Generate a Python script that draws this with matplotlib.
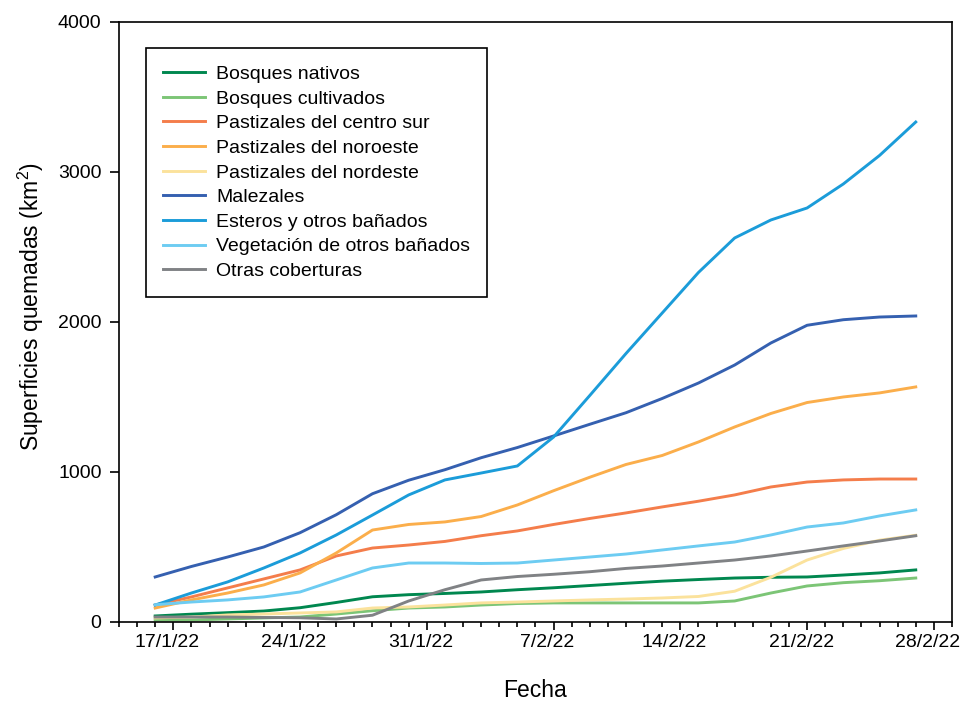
import numpy as np
import pandas as pd
import matplotlib
matplotlib.use('Agg')
import matplotlib.pyplot as plt
import matplotlib.dates as mdates
import matplotlib.transforms as mtransforms
from matplotlib.ticker import FuncFormatter

plt.rcParams['font.family'] = ['Liberation Sans', 'DejaVu Sans']
plt.rcParams['mathtext.fontset'] = 'custom'
plt.rcParams['mathtext.rm'] = 'Liberation Sans'
plt.rcParams['mathtext.it'] = 'Liberation Sans:italic'

# superficie quemada acumulada (km2), un valor cada 2 dias
fechas = pd.date_range('2022-01-16', '2022-02-27', freq='2D')

bosques_nativos = [40, 52, 62, 73, 95, 130, 168, 182, 190, 200, 215, 228, 243, 258, 272, 283,
                   293, 298, 300, 313, 327, 347]
bosques_cultivados = [13, 13, 20, 27, 33, 53, 75, 93, 100, 113, 123, 127, 127, 127, 127, 127,
                      140, 193, 240, 262, 275, 293]
past_centro_sur = [113, 167, 227, 287, 347, 440, 493, 513, 537, 575, 607, 650, 690, 727, 767, 805,
                   847, 900, 933, 947, 953, 953]
past_noroeste = [93, 147, 193, 247, 327, 460, 613, 650, 667, 703, 780, 875, 965, 1050, 1110, 1200,
                 1300, 1390, 1463, 1500, 1527, 1567]
past_nordeste = [27, 33, 47, 53, 60, 67, 93, 100, 113, 127, 133, 140, 147, 153, 160, 170,
                 205, 298, 413, 490, 545, 578]
malezales = [300, 370, 433, 500, 595, 715, 855, 945, 1015, 1095, 1163, 1240, 1318, 1395, 1490, 1593,
             1713, 1860, 1978, 2015, 2033, 2040]
esteros = [113, 193, 267, 360, 460, 580, 713, 847, 947, 993, 1040, 1233, 1510, 1790, 2060, 2330,
           2560, 2680, 2760, 2920, 3110, 3333]
veg_banados = [115, 133, 147, 167, 200, 280, 360, 393, 393, 390, 393, 413, 433, 453, 480, 507,
               533, 580, 633, 660, 707, 747]
otras = [33, 33, 33, 30, 28, 20, 45, 140, 215, 280, 303, 318, 335, 357, 373, 393,
         413, 440, 473, 507, 540, 575]

series = [
    ('Bosques nativos', bosques_nativos, '#00874F'),
    ('Bosques cultivados', bosques_cultivados, '#7CC576'),
    ('Pastizales del centro sur', past_centro_sur, '#F47D4B'),
    ('Pastizales del noroeste', past_noroeste, '#FBAE4B'),
    ('Pastizales del nordeste', past_nordeste, '#FBE29C'),
    ('Malezales', malezales, '#3560B0'),
    ('Esteros y otros bañados', esteros, '#1B9CD9'),
    ('Vegetación de otros bañados', veg_banados, '#6DCCF2'),
    ('Otras coberturas', otras, '#808285'),
]

fig = plt.figure(figsize=(9.61, 7.02), dpi=100)
ax = fig.add_axes([0.1238, 0.114, 0.8668, 0.8547])

for nombre, vals, col in series:
    ax.plot(fechas, vals, color=col, lw=2.1, label=nombre)

ax.set_xlim(pd.Timestamp('2022-01-14'), pd.Timestamp('2022-03-01'))
ax.set_ylim(0, 4000)
ax.set_yticks([0, 1000, 2000, 3000, 4000])

ax.xaxis.set_major_locator(mdates.WeekdayLocator(byweekday=mdates.MO))
ax.xaxis.set_minor_locator(mdates.DayLocator())


def fmt_fecha(x, pos):
    d = mdates.num2date(x)
    return f'{d.day}/{d.month}/{d.year % 100}'


ax.xaxis.set_major_formatter(FuncFormatter(fmt_fecha))

ax.tick_params(axis='x', which='major', direction='out', length=6, width=1.2, labelsize=14, pad=3)
ax.tick_params(axis='x', which='minor', direction='out', length=3.5, width=1.2)
ax.tick_params(axis='y', direction='out', length=6.5, width=1.2, labelsize=14, pad=6)
for sp in ax.spines.values():
    sp.set_linewidth(1.2)

# etiquetas de fecha un poco corridas a la izquierda
despl = mtransforms.ScaledTranslation(-6 / 100, 0, fig.dpi_scale_trans)
for lab in ax.get_xticklabels():
    lab.set_transform(lab.get_transform() + despl)

ax.set_xlabel('Fecha', fontsize=16.5)
ax.xaxis.set_label_coords(0.5, -0.095)
ax.set_ylabel(r'Superficies quemadas (km$^2$)', fontsize=16.5)
ax.yaxis.set_label_coords(-0.088, 0.525)

leg = ax.legend(loc='upper left', bbox_to_anchor=(0.0324, 0.9567), borderaxespad=0,
                frameon=True, fancybox=False, edgecolor='black', framealpha=1, fontsize=14,
                handlelength=2.15, handletextpad=0.55, borderpad=0.9, labelspacing=0.36)
leg.get_frame().set_linewidth(1.2)

plt.savefig('out.png', dpi=100)
